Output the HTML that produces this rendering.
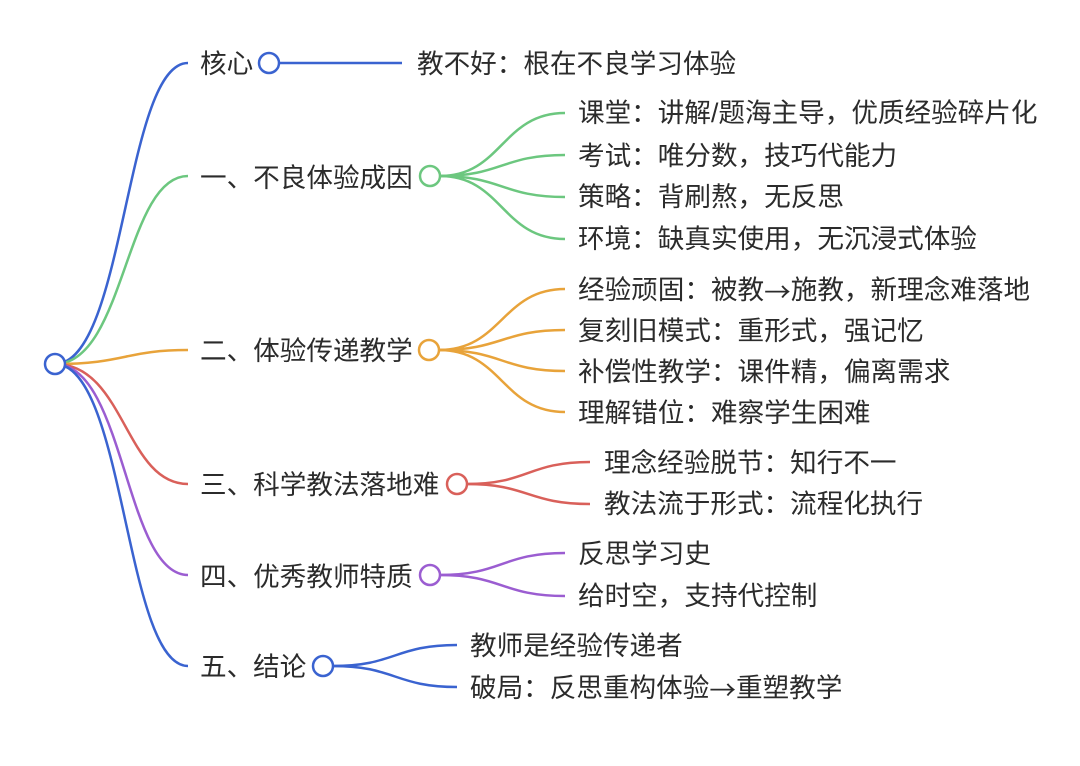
<!DOCTYPE html>
<html><head><meta charset="utf-8"><style>
html,body{margin:0;padding:0;background:#fff;}
svg{display:block;}
text{font-family:"Liberation Sans","Noto Sans CJK SC",sans-serif;font-size:26.6px;fill:#2b2b2b;dominant-baseline:central;}
.cjk{font-family:"Noto Sans CJK SC",sans-serif;}
</style></head><body>
<svg width="1080" height="766" viewBox="0 0 1080 766" xmlns="http://www.w3.org/2000/svg">
<g fill="none" stroke-width="2.5">
<path d="M55 364 C125 364 125 63 188 63" stroke="#3a63d0"/>
<path d="M55 364 C125 364 125 176 188 176" stroke="#6cc77f"/>
<path d="M55 364 C125 364 125 350 188 350" stroke="#e8a33a"/>
<path d="M55 364 C125 364 125 484 188 484" stroke="#d9605a"/>
<path d="M55 364 C125 364 125 575 188 575" stroke="#9b5dd1"/>
<path d="M55 364 C125 364 125 666 188 666" stroke="#3a63d0"/>
<path d="M279 63 L402 63" stroke="#3a63d0"/>
<g stroke="#6cc77f">
<path d="M440 176 C502 176 502 113 565 113"/>
<path d="M440 176 C502 176 502 155 565 155"/>
<path d="M440 176 C502 176 502 197 565 197"/>
<path d="M440 176 C502 176 502 239 565 239"/>
</g>
<g stroke="#e8a33a">
<path d="M439 350 C502 350 502 289 565 289"/>
<path d="M439 350 C502 350 502 330 565 330"/>
<path d="M439 350 C502 350 502 371 565 371"/>
<path d="M439 350 C502 350 502 412 565 412"/>
</g>
<g stroke="#d9605a">
<path d="M467 484 C528 484 528 462 590 462"/>
<path d="M467 484 C528 484 528 504 590 504"/>
</g>
<g stroke="#9b5dd1">
<path d="M440 575 C502 575 502 553 565 553"/>
<path d="M440 575 C502 575 502 596 565 596"/>
</g>
<g stroke="#3a63d0">
<path d="M333 666 C395 666 395 645 457 645"/>
<path d="M333 666 C395 666 395 687 457 687"/>
</g>
<g fill="#fff">
<circle cx="55" cy="364" r="10" stroke="#3a63d0"/>
<circle cx="269" cy="63" r="10" stroke="#3a63d0"/>
<circle cx="430" cy="176" r="10" stroke="#6cc77f"/>
<circle cx="429" cy="350" r="10" stroke="#e8a33a"/>
<circle cx="457" cy="484" r="10" stroke="#d9605a"/>
<circle cx="430" cy="575" r="10" stroke="#9b5dd1"/>
<circle cx="323" cy="666" r="10" stroke="#3a63d0"/>
</g>
</g>
<text x="200" y="64">核心</text>
<text x="417" y="64">教不好：根在不良学习体验</text>
<text x="200" y="178">一、不良体验成因</text>
<text x="578" y="113">课堂：讲解/题海主导，优质经验碎片化</text>
<text x="578" y="156">考试：唯分数，技巧代能力</text>
<text x="578" y="197">策略：背刷熬，无反思</text>
<text x="578" y="239">环境：缺真实使用，无沉浸式体验</text>
<text x="200" y="351">二、体验传递教学</text>
<text x="578" y="290">经验顽固：被教<tspan class="cjk">→</tspan>施教，新理念难落地</text>
<text x="578" y="331">复刻旧模式：重形式，强记忆</text>
<text x="578" y="372">补偿性教学：课件精，偏离需求</text>
<text x="578" y="413">理解错位：难察学生困难</text>
<text x="200" y="485">三、科学教法落地难</text>
<text x="604" y="463">理念经验脱节：知行不一</text>
<text x="604" y="504">教法流于形式：流程化执行</text>
<text x="200" y="577">四、优秀教师特质</text>
<text x="578" y="554">反思学习史</text>
<text x="578" y="596">给时空，支持代控制</text>
<text x="200" y="667">五、结论</text>
<text x="470" y="646">教师是经验传递者</text>
<text x="470" y="688">破局：反思重构体验<tspan class="cjk">→</tspan>重塑教学</text>
</svg>
</body></html>
